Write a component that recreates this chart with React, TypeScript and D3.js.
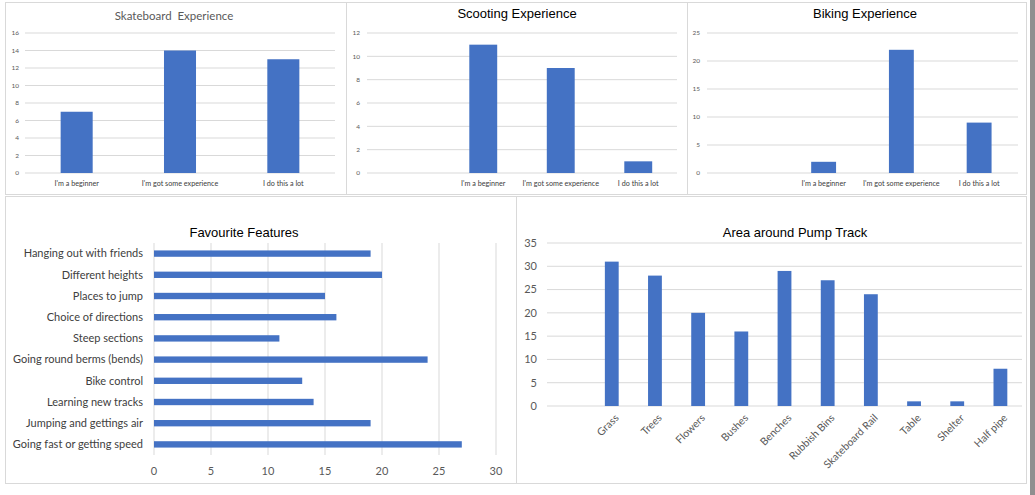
import React from "react";
import * as d3 from "d3";

// experience charts
const expCats = ["I'm a beginner", "I'm got some experience", "I do this a lot"];
const skateValues = [7, 14, 13];
const scootValues = [11, 9, 1];
const bikeValues = [2, 22, 9];
const skateTicks = [0, 2, 4, 6, 8, 10, 12, 14, 16];
const scootTicks = [0, 2, 4, 6, 8, 10, 12];
const bikeTicks = [0, 5, 10, 15, 20, 25];

// favourite features (top to bottom)
const featureCats = [
  "Hanging out with friends",
  "Different heights",
  "Places to jump",
  "Choice of directions",
  "Steep sections",
  "Going round berms (bends)",
  "Bike control",
  "Learning new tracks",
  "Jumping and gettings air",
  "Going fast or getting speed",
];
const featureValues = [19, 20, 15, 16, 11, 24, 13, 14, 19, 27];
const featureTicks = [0, 5, 10, 15, 20, 25, 30];

// area around pump track
const areaCats = ["Grass", "Trees", "Flowers", "Bushes", "Benches", "Rubbish Bins", "Skateboard Rail", "Table", "Shelter", "Half pipe"];
const areaValues = [31, 28, 20, 16, 29, 27, 24, 1, 1, 8];
const areaTicks = [0, 5, 10, 15, 20, 25, 30, 35];

const BAR = "#4472C4";
const GRID = "#d9d9d9";
const LABEL_FONT = "Lato, 'Open Sans', sans-serif";
const TITLE_FONT = "'Liberation Sans', Arial, sans-serif";

type ColProps = {
  cats: string[];
  values: number[];
  ticks: number[];
  left: number;
  right: number;
  top: number;
  bottom: number;
  pad: number;
  tickX: number;
  fontSize: number;
  catFontSize: number;
  rotate?: boolean;
};

function Columns(p: ColProps) {
  const x = d3.scaleBand<string>()
    .domain(p.cats.map((c, i) => i + ":" + c))
    .range([p.left, p.right])
    .paddingInner(p.pad)
    .paddingOuter(p.pad / 2);
  const y = d3.scaleLinear()
    .domain([0, p.ticks[p.ticks.length - 1]])
    .range([p.bottom, p.top]);
  const keys = x.domain();
  const offset = p.cats.length - p.values.length;
  return (
    <g>
      {p.ticks.map((t) => (
        <g key={t}>
          <line x1={p.left} x2={p.right} y1={y(t)} y2={y(t)} stroke={GRID} strokeWidth={1} />
          <text x={p.tickX} y={y(t)} dy="0.35em" textAnchor="end" fontSize={p.fontSize} fill="#595959" fontFamily={LABEL_FONT}>{t}</text>
        </g>
      ))}
      {p.values.map((v, i) => {
        const k = keys[i + offset];
        return <rect key={k} x={x(k)} y={y(v)} width={x.bandwidth()} height={y(0) - y(v)} fill={BAR} />;
      })}
      {p.cats.map((c, i) => {
        const cx = (x(keys[i]) as number) + x.bandwidth() / 2;
        if (!c) return null;
        return p.rotate ? (
          <text key={i} transform={`translate(${cx + 5},${p.bottom + 10}) rotate(-45)`} textAnchor="end" dy="0.35em"
            fontSize={p.catFontSize} fill="#595959" fontFamily={LABEL_FONT}>{c}</text>
        ) : (
          <text key={i} x={cx} y={p.bottom + 10} dy="0.35em" textAnchor="middle" fontSize={p.catFontSize}
            fill="#404040" fontFamily={LABEL_FONT}>{c}</text>
        );
      })}
    </g>
  );
}

function Features() {
  const left = 154, right = 496, top = 243, bottom = 455;
  const x = d3.scaleLinear().domain([0, 30]).range([left, right]);
  const y = d3.scaleBand<string>().domain(featureCats).range([top, bottom]).paddingInner(0.7).paddingOuter(0.35);
  return (
    <g>
      {featureTicks.map((t) => (
        <g key={t}>
          <line x1={x(t)} x2={x(t)} y1={top} y2={bottom} stroke={GRID} strokeWidth={1} />
          <text x={x(t)} y={471} dy="0.35em" textAnchor="middle" fontSize={11} fill="#595959" fontFamily={LABEL_FONT}>{t}</text>
        </g>
      ))}
      {featureValues.map((v, i) => (
        <rect key={i} x={x(0)} y={y(featureCats[i])} width={x(v) - x(0)} height={y.bandwidth()} fill={BAR} />
      ))}
      {featureCats.map((c) => (
        <text key={c} x={143} y={(y(c) as number) + y.bandwidth() / 2} dy="0.35em" textAnchor="end" fontSize={11}
          fill="#404040" fontFamily={LABEL_FONT}>{c}</text>
      ))}
    </g>
  );
}

export default function App() {
  return (
    <div style={{ position: "absolute", left: 0, top: 0 }}>
      <svg width={1035} height={495} style={{ display: "block", background: "#fff" }}>
        {/* panel frames */}
        <rect x={5.5} y={2.5} width={341} height={192} fill="none" stroke={GRID} />
        <rect x={346.5} y={2.5} width={341} height={192} fill="none" stroke={GRID} />
        <rect x={687.5} y={2.5} width={339} height={192} fill="none" stroke={GRID} />
        <rect x={5.5} y={196.5} width={511} height={287} fill="none" stroke={GRID} />
        <rect x={516.5} y={196.5} width={510} height={287} fill="none" stroke={GRID} />
        <rect x={1030} y={0} width={5} height={495} fill="#8f8f8f" />

        {/* Skateboard */}
        <text x={174} y={16} dy="0.35em" textAnchor="middle" fontSize={11.5} fill="#595959" fontFamily={LABEL_FONT} style={{ whiteSpace: "pre" }}>
          Skateboard  Experience
        </text>
        <Columns cats={expCats} values={skateValues} ticks={skateTicks} left={25} right={335} top={33} bottom={173}
          pad={0.69} tickX={19} fontSize={6.5} catFontSize={7.2} />

        {/* Scooting */}
        <text x={517} y={13} dy="0.35em" textAnchor="middle" fontSize={13} fill="#000" fontFamily={TITLE_FONT}>Scooting Experience</text>
        <Columns cats={["", ...expCats]} values={scootValues} ticks={scootTicks} left={367} right={677} top={33} bottom={173}
          pad={0.64} tickX={360} fontSize={6.5} catFontSize={7.2} />

        {/* Biking */}
        <text x={865} y={13} dy="0.35em" textAnchor="middle" fontSize={13} fill="#000" fontFamily={TITLE_FONT}>Biking Experience</text>
        <Columns cats={["", ...expCats]} values={bikeValues} ticks={bikeTicks} left={707} right={1018} top={33} bottom={173}
          pad={0.68} tickX={700} fontSize={6.5} catFontSize={7.2} />

        {/* Favourite features */}
        <text x={244} y={232} dy="0.35em" textAnchor="middle" fontSize={13} fill="#000" fontFamily={TITLE_FONT}>Favourite Features</text>
        <Features />

        {/* Area around pump track */}
        <text x={795} y={232} dy="0.35em" textAnchor="middle" fontSize={13} fill="#000" fontFamily={TITLE_FONT}>Area around Pump Track</text>
        <Columns cats={["", ...areaCats]} values={areaValues} ticks={areaTicks} left={547} right={1022} top={243} bottom={406}
          pad={0.68} tickX={537} fontSize={11} catFontSize={10.5} rotate />
      </svg>
    </div>
  );
}
